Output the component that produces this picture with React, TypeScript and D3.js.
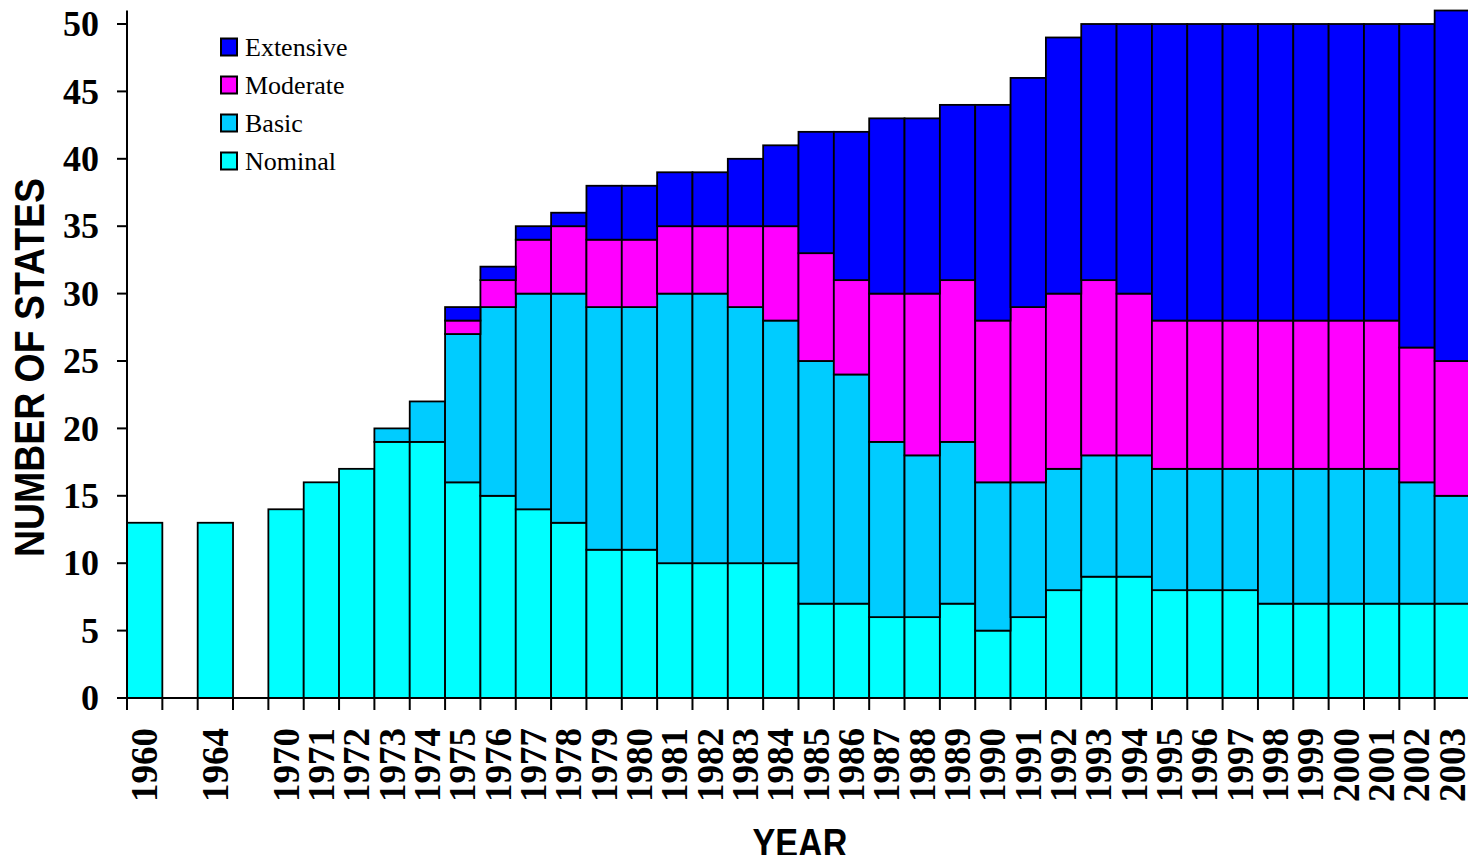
import React from "react";
import * as d3 from "d3";

const categories = ["1960", "gap1", "1964", "gap2", "1970", "1971", "1972", "1973", "1974", "1975", "1976", "1977", "1978", "1979", "1980", "1981", "1982", "1983", "1984", "1985", "1986", "1987", "1988", "1989", "1990", "1991", "1992", "1993", "1994", "1995", "1996", "1997", "1998", "1999", "2000", "2001", "2002", "2003"];
const labels = ["1960", "", "1964", "", "1970", "1971", "1972", "1973", "1974", "1975", "1976", "1977", "1978", "1979", "1980", "1981", "1982", "1983", "1984", "1985", "1986", "1987", "1988", "1989", "1990", "1991", "1992", "1993", "1994", "1995", "1996", "1997", "1998", "1999", "2000", "2001", "2002", "2003"];

const nominal = [13, 0, 13, 0, 14, 16, 17, 19, 19, 16, 15, 14, 13, 11, 11, 10, 10, 10, 10, 7, 7, 6, 6, 7, 5, 6, 8, 9, 9, 8, 8, 8, 7, 7, 7, 7, 7, 7];
const basic = [0, 0, 0, 0, 0, 0, 0, 1, 3, 11, 14, 16, 17, 18, 18, 20, 20, 19, 18, 18, 17, 13, 12, 12, 11, 10, 9, 9, 9, 9, 9, 9, 10, 10, 10, 10, 9, 8];
const moderate = [0, 0, 0, 0, 0, 0, 0, 0, 0, 1, 2, 4, 5, 5, 5, 5, 5, 6, 7, 8, 7, 11, 12, 12, 12, 13, 13, 13, 12, 11, 11, 11, 11, 11, 11, 11, 10, 10];
const extensive = [0, 0, 0, 0, 0, 0, 0, 0, 0, 1, 1, 1, 1, 4, 4, 4, 4, 5, 6, 9, 11, 13, 13, 13, 16, 17, 19, 19, 20, 22, 22, 22, 22, 22, 22, 22, 24, 26];

const seriesNames = ["Nominal", "Basic", "Moderate", "Extensive"];
const seriesColors = ["#00FFFF", "#00CCFF", "#FF00FF", "#0000FF"];
const yTicks = [0, 5, 10, 15, 20, 25, 30, 35, 40, 45, 50];
const yMax = 51;

export default function App() {
  const W = 1468, H = 855;
  const left = 127, right = 1470, bottom = 698;
  const x = d3.scaleBand<string>().domain(categories).range([left, right]).padding(0);
  const y = d3.scaleLinear().domain([0, 50]).range([bottom, 24]);

  const rows = categories.map((c, i) => ({
    cat: c,
    Nominal: nominal[i],
    Basic: basic[i],
    Moderate: moderate[i],
    Extensive: extensive[i],
  }));
  const stack = d3.stack<any>().keys(seriesNames);
  const layers = stack(rows);

  const serif = "'Liberation Serif', 'Times New Roman', serif";
  const sans = "'Liberation Sans', Arial, sans-serif";

  const bw = x.bandwidth();
  const boundaries = categories.map((c) => x(c) as number).concat([right]);

  const legendOrder = [3, 2, 1, 0];

  return (
    <svg width={W} height={H} style={{ position: "absolute", left: 0, top: 0, background: "#fff" }}>
      {layers.map((layer, li) => (
        <g key={li}>
          {layer.map((d, i) => {
            if (d[1] - d[0] <= 0) return null;
            return (
              <rect
                key={i}
                x={x(categories[i])}
                y={y(d[1])}
                width={bw}
                height={y(d[0]) - y(d[1])}
                fill={seriesColors[li]}
                stroke="#000"
                strokeWidth={1.8}
              />
            );
          })}
        </g>
      ))}
      {/* Y axis */}
      <line x1={left} x2={left} y1={bottom} y2={y(yMax)} stroke="#000" strokeWidth={2} />
      {yTicks.map((t) => (
        <g key={t}>
          <line x1={left - 10} x2={left} y1={y(t)} y2={y(t)} stroke="#000" strokeWidth={2} />
          <text
            x={99}
            y={y(t)}
            dy="0.34em"
            textAnchor="end"
            fontFamily={serif}
            fontWeight="bold"
            fontSize={36}
          >
            {t}
          </text>
        </g>
      ))}
      {/* X axis */}
      <line x1={left - 10} x2={W} y1={bottom} y2={bottom} stroke="#000" strokeWidth={2} />
      {boundaries.map((b, i) => (
        <line key={i} x1={b} x2={b} y1={bottom} y2={bottom + 12} stroke="#000" strokeWidth={2} />
      ))}
      {categories.map((c, i) =>
        labels[i] ? (
          <text
            key={c}
            transform={`translate(${(x(c) as number) + bw / 2 + 12.5},728) rotate(-90)`}
            textAnchor="end"
            fontFamily={serif}
            fontWeight="bold"
            fontSize={37}
          >
            {labels[i]}
          </text>
        ) : null
      )}
      {/* Axis titles */}
      <text
        transform={`translate(44,${(178 + 557) / 2}) rotate(-90)`}
        textAnchor="middle"
        fontFamily={sans}
        fontWeight="bold"
        fontSize={42}
        textLength={379}
        lengthAdjust="spacingAndGlyphs"
      >
        NUMBER OF STATES
      </text>
      <text
        x={800}
        y={857}
        textAnchor="middle"
        fontFamily={sans}
        fontWeight="bold"
        fontSize={41}
        textLength={95}
        lengthAdjust="spacingAndGlyphs"
      >
        YEAR
      </text>
      {/* Legend */}
      {legendOrder.map((si, k) => {
        const cy = 47 + k * 38;
        return (
          <g key={si}>
            <rect x={221} y={cy - 8.5} width={16} height={17} fill={seriesColors[si]} stroke="#000" strokeWidth={2} />
            <text x={245} y={cy} dy="0.33em" fontFamily={serif} fontSize={26}>
              {seriesNames[si]}
            </text>
          </g>
        );
      })}
    </svg>
  );
}
